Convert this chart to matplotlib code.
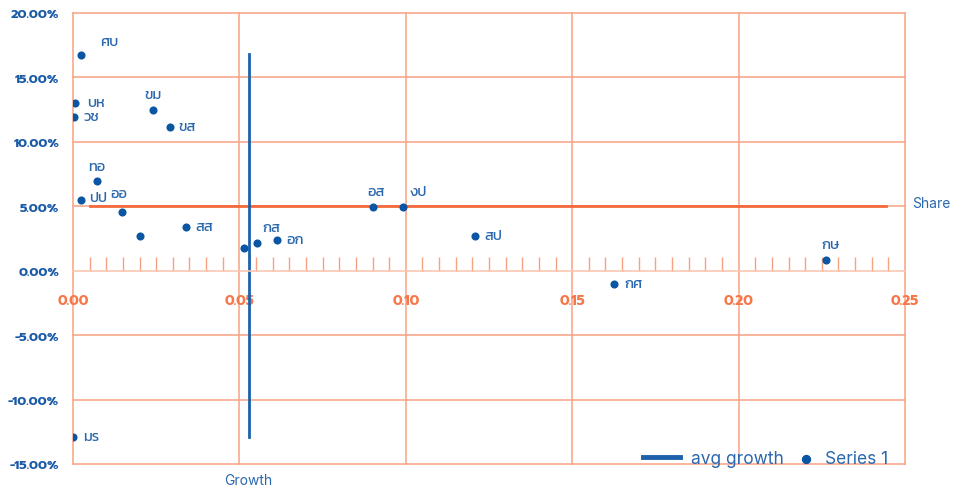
import matplotlib
matplotlib.use("Agg")
import matplotlib.pyplot as plt
from matplotlib.ticker import MultipleLocator, FuncFormatter
from matplotlib.legend_handler import HandlerLine2D

# ---- data ----
labels = ["ศบ", "บห", "วช", "ขม", "ขส", "ทอ", "ปป", "ออ", "", "สส",
          "", "กส", "อก", "อส", "งป", "สป", "กศ", "กษ", "มร"]
growth = [0.0024, 0.0006, 0.0003, 0.0240, 0.0291, 0.0072, 0.0024, 0.0147, 0.0201, 0.0340,
          0.0514, 0.0553, 0.0613, 0.0901, 0.0992, 0.1208, 0.1626, 0.2263, 0.0000]
share = [16.74, 13.02, 11.94, 12.48, 11.16, 6.98, 5.50, 4.57, 2.71, 3.41,
         1.78, 2.17, 2.40, 4.96, 4.96, 2.71, -1.00, 0.85, -12.87]
avg_growth_x = [0.0530, 0.0530]
avg_growth_y = [16.8, -12.87]
share_line_x = [0.0051, 0.2443]
share_line_y = [5.0, 5.0]
x_ticks = [0.00, 0.05, 0.10, 0.15, 0.20, 0.25]
y_ticks = [-15, -10, -5, 0, 5, 10, 15, 20]

# label placement (offset in points, alignment)
label_pos = {
    "ศบ": (14, 10, "left"), "บห": (9, 0, "left"), "วช": (7, 0, "left"),
    "ขม": (0, 11, "center"), "ขส": (6, 0, "left"), "ทอ": (0, 10, "center"),
    "ปป": (6, 2, "left"), "ออ": (-2, 13, "center"), "สส": (7, 0, "left"),
    "กส": (4, 11, "left"), "อก": (7, 0, "left"), "อส": (2, 11, "center"),
    "งป": (5, 11, "left"), "สป": (7, 0, "left"), "กศ": (7, 0, "left"),
    "กษ": (3, 11, "center"), "มร": (7, 0, "left"),
}

BLUE = "#0B56A3"
LBLUE = "#2B68AE"
ORANGE = "#F6784A"
GRID = "#F9A283"
TICKFONT = ["Prompt", "DejaVu Sans"]
THAIFONT = ["Kanit", "Prompt", "DejaVu Sans"]
TXTFONT = ["Inter", "DejaVu Sans"]


class LongLine(HandlerLine2D):
    """Line handle extended to the left."""
    def create_artists(self, legend, orig_handle, xdescent, ydescent,
                       width, height, fontsize, trans):
        arts = super().create_artists(legend, orig_handle, xdescent, ydescent,
                                      width, height, fontsize, trans)
        for a in arts:
            xd = list(a.get_xdata())
            if len(xd) >= 2:
                xd[0] = xd[0] - 14
                a.set_xdata(xd)
        return arts


fig = plt.figure(figsize=(9.55, 4.89), dpi=100)
ax = fig.add_axes([73 / 955, 1 - 465 / 489, 832 / 955, 451 / 489])

ax.set_xlim(0, 0.25)
ax.set_ylim(-15, 20)

for sp in ["top", "right", "left"]:
    ax.spines[sp].set_visible(False)
ax.spines["bottom"].set_position(("data", 0))
ax.spines["bottom"].set_color("#FCC7B1")
ax.spines["bottom"].set_linewidth(1.2)

ax.set_xticks(x_ticks)
ax.set_yticks(y_ticks)
ax.xaxis.set_minor_locator(MultipleLocator(0.005))
ax.xaxis.set_major_formatter(FuncFormatter(lambda v, p: f"{v:.2f}"))
ax.yaxis.set_major_formatter(FuncFormatter(lambda v, p: f"{v:.2f}%"))

ax.tick_params(axis="x", which="major", length=0, pad=17, labelcolor=ORANGE)
ax.tick_params(axis="x", which="minor", direction="in", length=10, width=1.0, color=GRID)
ax.tick_params(axis="y", which="major", length=0, pad=10, labelcolor="#1B5AA6")
for t in ax.get_xticklabels():
    t.set_fontfamily(TICKFONT)
    t.set_fontweight("bold")
    t.set_fontsize(10)
for t in ax.get_yticklabels():
    t.set_fontfamily(TICKFONT)
    t.set_fontweight("bold")
    t.set_fontsize(9.2)

# grid lines
for xv in x_ticks:
    ax.axvline(xv, color=GRID, lw=1.1, zorder=0, clip_on=False)
for yv in y_ticks:
    if yv != 0:
        ax.axhline(yv, color=GRID, lw=1.1, zorder=0, clip_on=False)

# reference lines
ax.plot(share_line_x, share_line_y, color="#F26A3C", lw=2.0, zorder=2)
ax.plot(avg_growth_x, avg_growth_y, color="#1C61AA", lw=2.0, zorder=2, label="avg growth")

# points
ax.scatter(growth, share, s=34, color=BLUE, zorder=3, label="Series 1", linewidths=0)

for lab, gx, sy in zip(labels, growth, share):
    if not lab:
        continue
    dx, dy, ha = label_pos[lab]
    ax.annotate(lab, (gx, sy), xytext=(dx, dy), textcoords="offset points",
                ha=ha, va="center", fontsize=10.5, color=LBLUE, family=THAIFONT)

fig.text(248 / 955, 1 - 481 / 489, "Growth", ha="center", va="center",
         fontsize=10, color=LBLUE, family=TXTFONT)
fig.text(912 / 955, 1 - 204 / 489, "Share", ha="left", va="center",
         fontsize=10, color=LBLUE, family=TXTFONT)

h, l = ax.get_legend_handles_labels()
leg = fig.legend(h, l, loc="center right", bbox_to_anchor=(897 / 955, 1 - 460 / 489),
                 ncol=2, frameon=False, handlelength=1.0, borderpad=0,
                 columnspacing=0.8, handletextpad=0.6, markerscale=0.55,
                 prop={"family": TXTFONT, "size": 12.5},
                 handler_map={type(h[0]): LongLine()})
for t in leg.get_texts():
    t.set_color(LBLUE)
for hh in leg.legend_handles:
    try:
        hh.set_linewidth(3.5)
    except Exception:
        pass

fig.savefig("out.png", dpi=100)
